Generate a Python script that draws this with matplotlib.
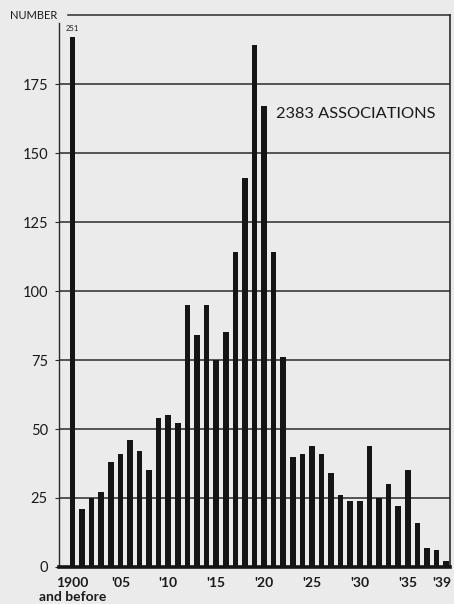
import numpy as np
import matplotlib
matplotlib.use("Agg")
import matplotlib.pyplot as plt
import matplotlib.transforms as mtransforms

# associations founded per year (1900 bar = "1900 and before")
years = list(range(1900, 1940))
counts = [251, 21, 25, 27, 38, 41, 46, 42, 35, 54, 55, 52,
          95, 84, 95, 75, 85, 114, 141, 189, 167, 114, 76,
          40, 41, 44, 41, 34, 26, 24, 24, 44, 25, 30, 22, 35, 16, 7, 6, 2]

ytick_vals = [0, 25, 50, 75, 100, 125, 150, 175]
xtick_years = [1900, 1905, 1910, 1915, 1920, 1925, 1930, 1935, 1939]
xtick_labels = ["1900\nand before", "'05", "'10", "'15", "'20", "'25", "'30", "'35", "'39"]
total_label = "2383 ASSOCIATIONS"

BREAK_AT = 192  # first bar is cut off and its value written on top
BG = "#ebebeb"
INK = "#151515"

plt.rcParams['font.family'] = ['Lato', 'DejaVu Sans']

fig = plt.figure(figsize=(4.54, 6.04), dpi=100, facecolor=BG)
ax = fig.add_axes([0.130, 0.0613, 0.861, 0.9137], facecolor=BG)

x = np.arange(len(years))
shown = np.minimum(counts, BREAK_AT)
ax.bar(x, shown, width=0.58, color=INK, zorder=3)

ax.set_xlim(-1.4, 39.4)
ax.set_ylim(0, 200)

# horizontal rules
for v in ytick_vals[1:]:
    ax.axhline(v, color="#2a2a2a", lw=1.1, zorder=1)
ax.axhline(200, xmin=0.023, color="#2a2a2a", lw=1.1, clip_on=False, zorder=1)

ax.spines["top"].set_visible(False)
ax.spines["left"].set_bounds(0, 197)
ax.spines["left"].set_linewidth(1.0)
ax.spines["left"].set_color("#2a2a2a")
ax.spines["right"].set_linewidth(1.2)
ax.spines["right"].set_color("#2a2a2a")
ax.spines["bottom"].set_linewidth(2.6)
ax.spines["bottom"].set_color(INK)
ax.spines["bottom"].set_zorder(4)

ax.set_yticks(ytick_vals)
ax.set_yticklabels([str(v) for v in ytick_vals], fontsize=10.5, color="#1a1a1a")
ax.tick_params(axis="y", length=3, width=0.8, pad=5, color="#2a2a2a")

ax.set_xticks([years.index(y) for y in xtick_years])
ax.set_xticklabels(xtick_labels, fontsize=10, color="#1a1a1a", fontweight="bold",
                   linespacing=1.2)
ax.tick_params(axis="x", length=0, pad=7)
# last label sits on the right edge; nudge it in a little
last = ax.get_xticklabels()[-1]
last.set_transform(last.get_transform() +
                   mtransforms.ScaledTranslation(-4 / 100, 0, fig.dpi_scale_trans))

# value of the cut-off first bar
ax.text(0, BREAK_AT + 2, str(counts[0]), ha="center", va="bottom",
        fontsize=5.5, color="#1a1a1a")

ax.text(-1.6, 200, "NUMBER", ha="right", va="center", fontsize=8,
        color="#1a1a1a", clip_on=False)

ax.text(21.2, 164, total_label, ha="left", va="center", fontsize=11.8,
        color="#1a1a1a")

fig.savefig("out.png", dpi=100, facecolor=BG)
